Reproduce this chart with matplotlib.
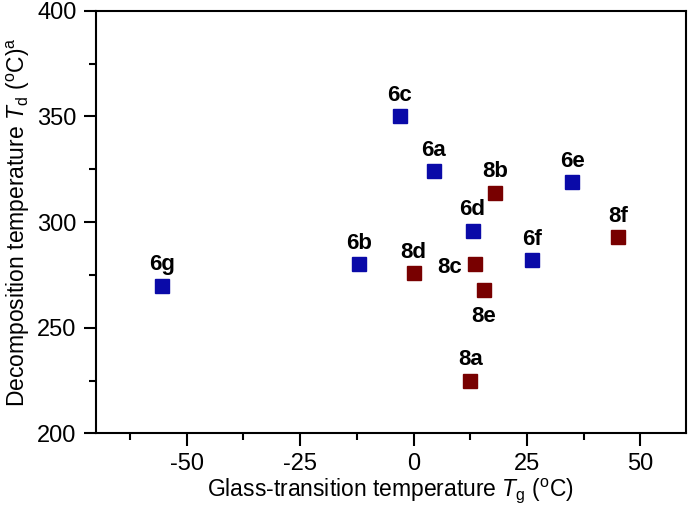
import numpy as np
import matplotlib
matplotlib.use("Agg")
import matplotlib.pyplot as plt
from matplotlib.ticker import MultipleLocator

plt.rcParams['font.family'] = ['Liberation Sans', 'DejaVu Sans']
plt.rcParams['mathtext.fontset'] = 'custom'
plt.rcParams['mathtext.rm'] = 'Liberation Sans'
plt.rcParams['mathtext.it'] = 'Liberation Sans:italic'
plt.rcParams['axes.unicode_minus'] = False

# Series 6 (blue) and series 8 (dark red)
labels_6 = ['6a', '6b', '6c', '6d', '6e', '6f', '6g']
tg_6 = [4.5, -12, -3, 13, 35, 26, -55.5]
td_6 = [324, 280, 350, 296, 319, 282, 270]

labels_8 = ['8a', '8b', '8c', '8d', '8e', '8f']
tg_8 = [12.5, 18, 13.5, 0, 15.5, 45]
td_8 = [225, 314, 280, 276, 268, 293]

# label offsets in points (dx, dy)
offsets = {'8c': (-18, -2), '8e': (0, -19)}

fig = plt.figure(figsize=(6.9, 5.16), dpi=100)
ax = fig.add_axes([0.139, 0.160, 0.855, 0.819])

ax.plot(tg_6, td_6, 's', color='#0a0aa8', markersize=10.5, ls='none')
ax.plot(tg_8, td_8, 's', color='#780000', markersize=10.5, ls='none')

for lab, x, y in list(zip(labels_6, tg_6, td_6)) + list(zip(labels_8, tg_8, td_8)):
    dx, dy = offsets.get(lab, (0, 15))
    ax.annotate(lab, (x, y), xytext=(dx, dy), textcoords='offset points',
                ha='center', va='center', fontsize=16, fontweight='bold')

ax.set_xlim(-70, 60)
ax.set_ylim(200, 400)

ax.xaxis.set_major_locator(MultipleLocator(25))
ax.xaxis.set_minor_locator(MultipleLocator(12.5))
ax.yaxis.set_major_locator(MultipleLocator(50))
ax.yaxis.set_minor_locator(MultipleLocator(25))

for s in ax.spines.values():
    s.set_linewidth(1.5)

ax.tick_params(which='major', direction='out', length=9, width=1.5, labelsize=17, pad=5)
ax.tick_params(which='minor', direction='out', length=5, width=1.5)

ax.set_xlabel(r'Glass-transition temperature $T_{\mathrm{g}}$ ($^{\mathrm{o}}$C)', fontsize=16.5, labelpad=1)
ax.set_ylabel(r'Decomposition temperature $T_{\mathrm{d}}$ ($^{\mathrm{o}}$C)$^{\mathrm{a}}$', fontsize=16.5, labelpad=4)

fig.savefig('out.png', dpi=100)
